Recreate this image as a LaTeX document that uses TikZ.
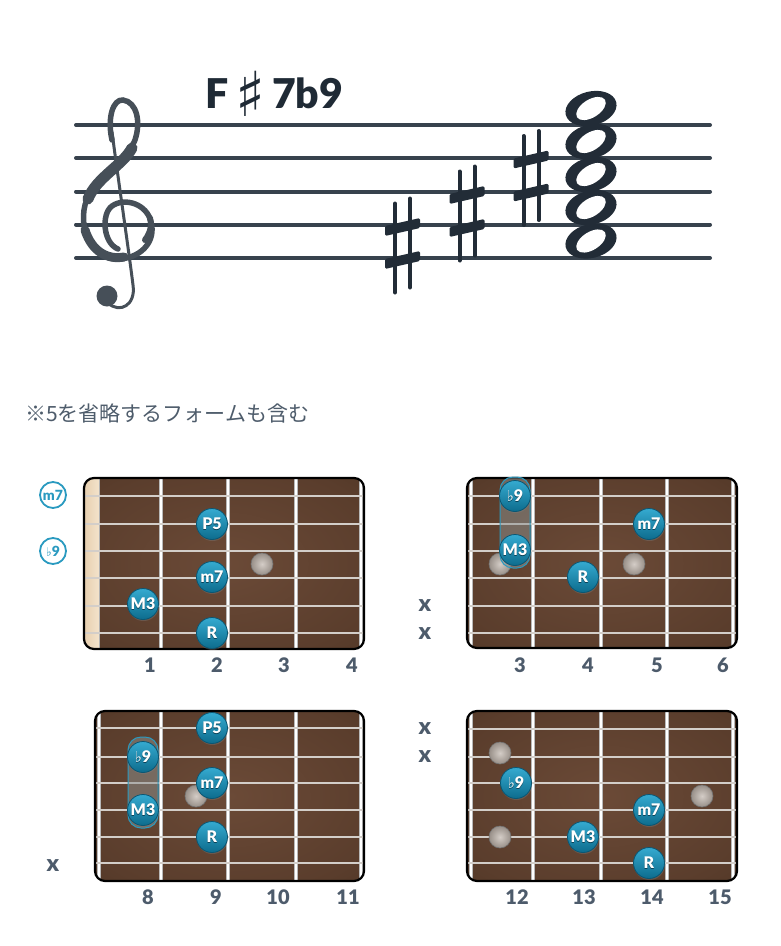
\documentclass[tikz,border=0pt]{standalone}
\usepackage{fontspec}
\usepackage{graphicx}
\setmainfont{Lato}
\newfontfamily\lato{Lato}
\IfFontExistsTF{Lato Black}{\newfontfamily\heavy{Lato Black}}{\newfontfamily\heavy{Lato}[UprightFont=*,UprightFeatures={FakeBold=1.5}]}
\newfontfamily\djv{DejaVu Sans}
\newfontfamily\jpfont{Noto Sans CJK JP}
\usetikzlibrary{shadows}
\definecolor{staffcol}{HTML}{37424D}
\definecolor{clefcol}{HTML}{464F58}
\definecolor{notecol}{HTML}{222C37}
\definecolor{titlecol}{HTML}{1F2A35}
\definecolor{jpcol}{HTML}{4E5C6B}
\definecolor{numcol}{HTML}{4D5B6B}
\definecolor{fbin}{HTML}{6B4A37}
\definecolor{fbmid}{HTML}{5A3D2C}
\definecolor{fbedge}{HTML}{46301F}
\definecolor{fbout}{HTML}{2E1E14}
\definecolor{nutL}{HTML}{E6CFAF}
\definecolor{nutR}{HTML}{F4E3CB}
\definecolor{fretgray}{HTML}{B8B8B8}
\definecolor{stringcol}{HTML}{D3CEC9}
\definecolor{dotT}{HTML}{35AAD0}
\definecolor{dotB}{HTML}{0D6C8D}
\definecolor{dotE}{HTML}{0A5673}
\definecolor{shadcol}{HTML}{0B4257}
\definecolor{ringcol}{HTML}{2A9AC0}
\definecolor{inlayIn}{HTML}{D4CDC7}
\definecolor{inlayOut}{HTML}{988F88}
\definecolor{barrecol}{HTML}{8C9290}
\pgfdeclareradialshading{fbshade}{\pgfpoint{0bp}{0bp}}{color(0bp)=(fbin); color(30bp)=(fbmid); color(50bp)=(fbedge); color(70bp)=(fbout)}
\newcommand\flatsym[1]{{\djv\fontsize{#1}{#1}\selectfont ♭}}
\newcommand\shd[1]{\rlap{\textcolor{shadcol}{\raisebox{-1.3pt}{#1}}}#1}
\begin{document}
\begin{tikzpicture}[x=1pt,y=-1pt,
  staffline/.style={staffcol, line width=4pt, line cap=round},
  titletext/.style={text=titlecol, inner sep=0pt, font=\heavy\fontsize{41}{41}\selectfont},
  jptext/.style={text=jpcol, inner sep=0pt, font=\jpfont\fontsize{21}{21}\selectfont},
  board/.style={draw=black, line width=2.2pt, rounded corners=10pt},
  fbfill/.style={shading=fbshade},
  fretline/.style={draw=fretgray, line width=1.3pt, double=white, double distance=2pt},
  stringline/.style={draw=stringcol, line width=2.3pt},
  dotnote/.style={circle, minimum size=31pt, inner sep=0pt, top color=dotT, bottom color=dotB,
     draw=dotE, line width=0.8pt, text=white, font=\heavy\fontsize{16}{16}\selectfont,
     drop shadow={opacity=0.35, shadow xshift=0.5pt, shadow yshift=-1.5pt}},
  inlay/.style={circle, minimum size=22pt, inner sep=0pt, inner color=inlayIn, outer color=inlayOut,
     draw=black!55, line width=0.6pt},
  ringlab/.style={circle, minimum size=26pt, inner sep=0pt, draw=ringcol, line width=1.8pt, fill=white,
     text=ringcol, font=\heavy\fontsize{14}{14}\selectfont},
  fretnum/.style={text=numcol, inner sep=0pt, font=\heavy\fontsize{20}{20}\selectfont},
  mute/.style={text=numcol, inner sep=0pt, font=\heavy\fontsize{23}{23}\selectfont},
  barre/.style={rounded corners=13pt, fill=barrecol, fill opacity=0.5, draw=ringcol, line width=1pt},
  sharpsym/.pic={
    \draw[line width=4pt, notecol, line cap=round] (-7.5,-40) -- (-7.5,49);
    \draw[line width=4pt, notecol, line cap=round] (7.5,-45) -- (7.5,44);
    \fill[notecol, rounded corners=1.5pt] (-17.5,-17.5) -- (17.5,-25.5) -- (17.5,-15.5) -- (-17.5,-7.5) -- cycle;
    \fill[notecol, rounded corners=1.5pt] (-17.5,15.5) -- (17.5,7.5) -- (17.5,17.5) -- (-17.5,25.5) -- cycle;
  }]
\useasboundingbox (0,0) rectangle (780,946);

% ---------- title ----------
\node[titletext, anchor=base west] (tF) at (205,108) {F};
\node[inner sep=0pt, text=titlecol, font=\djv\fontsize{62}{62}\selectfont] (tS) at (250,93.5) {♯};
\node[titletext, anchor=base west] (t7) at (272,108) {7b9};

% ---------- staff ----------
\foreach \y in {125,158,191.5,224.5,258} \draw[staffline] (76,\y) -- (710,\y);

% treble clef
\begin{scope}[clefcol]
\draw[line width=3pt, line cap=round] (112,132) .. controls (119,185) and (128,245) .. (133,285) .. controls (136,305) and (120,314) .. (108,303);
\fill (107,296) circle[radius=10.5pt];
\draw[line width=5.5pt, line cap=round] (112,140) .. controls (107,118) and (113,99) .. (123,100)
  .. controls (137,102) and (141,122) .. (135,140)
  .. controls (127,162) and (88,180) .. (84,210)
  .. controls (80,240) and (100,261) .. (120,259)
  .. controls (143,257) and (156,240) .. (151,222)
  .. controls (147,204) and (125,197) .. (112,206)
  .. controls (101,214) and (103,243) .. (118,249);
\draw[line width=11pt, line cap=round] (132,148) .. controls (123,165) and (96,178) .. (88,199);
\draw[line width=9pt, line cap=round] (85,230) .. controls (92,252) and (108,260) .. (124,257);
\draw[line width=6pt, line cap=round] (145,240) .. controls (151,232) and (152,224) .. (150,218);
\end{scope}

% sharps
\pic (s1) at (402.5,243.5) {sharpsym};
\pic (s2) at (467,211.5) {sharpsym};
\pic (s3) at (531,176) {sharpsym};

% whole notes
\foreach \y in {108.5,141.5,174.5,207.5,241} {
  \fill[notecol, rotate around={14:(591,\y)}] (591,\y) ellipse [x radius=26pt, y radius=17pt];
  \fill[white, rotate around={32:(591,\y)}] (591,\y) ellipse [x radius=16.5pt, y radius=9pt];
}

% ---------- note ----------
\node[jptext, anchor=west] (jp) at (25,413) {※5を省略するフォームも含む};

% ---------- board 1 ----------
\begin{scope}
\clip[rounded corners=10pt] (84,478) rectangle (364,649);
\shade[fbfill] (84,478) rectangle (364,649);
\shade[left color=nutL, right color=nutR] (84,478) rectangle (99,649);
\draw[draw=black!30, line width=0.8pt] (99,478) -- (99,649);
\foreach \x in {161,228,296,361} \draw[fretline] (\x,478) -- (\x,649);
\foreach \y in {496,524,551,578,606,633} \draw[stringline] (84,\y) -- (364,\y);
\end{scope}
\draw[board] (84,478) rectangle (364,649);
\node[inlay] (b1i1) at (262,564) {};
\node[dotnote] (b1p5) at (212,524) {\shd{P5}};
\node[dotnote] (b1m7) at (212,577) {\shd{m7}};
\node[dotnote] (b1m3) at (143,604) {\shd{M3}};
\node[dotnote] (b1r) at (212,633) {\shd{R}};
\node[ringlab] (lm7) at (53,495) {m7};
\node[ringlab] (lb9) at (53,551) {\flatsym{12}9};
\node[fretnum] (n1) at (150,665) {1};
\node[fretnum] (n2) at (217,665) {2};
\node[fretnum] (n3) at (284,665) {3};
\node[fretnum] (n4) at (352,665) {4};

% ---------- board 2 ----------
\begin{scope}
\clip[rounded corners=10pt] (467,478) rectangle (737,648);
\shade[fbfill] (467,478) rectangle (737,648);
\foreach \x in {471,533,601,667,733} \draw[fretline] (\x,478) -- (\x,648);
\foreach \y in {496,524,551,578,606,633} \draw[stringline] (467,\y) -- (737,\y);
\end{scope}
\draw[board] (467,478) rectangle (737,648);
\node[inlay] (b2i1) at (500,564) {};
\node[inlay] (b2i2) at (634,564) {};
\draw[barre] (500,477) rectangle (530,568);
\node[dotnote] (b2b9) at (515,496) {\shd{\flatsym{15}9}};
\node[dotnote] (b2m3) at (515,550) {\shd{M3}};
\node[dotnote] (b2m7) at (649,524) {\shd{m7}};
\node[dotnote] (b2r) at (583,577) {\shd{R}};
\node[mute] (b2x1) at (425,606) {x};
\node[mute] (b2x2) at (425,634) {x};
\node[fretnum] (n5) at (520,665) {3};
\node[fretnum] (n6) at (588,665) {4};
\node[fretnum] (n7) at (657,665) {5};
\node[fretnum] (n8) at (723,665) {6};

% ---------- board 3 ----------
\begin{scope}
\clip[rounded corners=10pt] (95,711) rectangle (364,881);
\shade[fbfill] (95,711) rectangle (364,881);
\foreach \x in {99,161,228,296,361} \draw[fretline] (\x,711) -- (\x,881);
\foreach \y in {728,757,783,810,837,863} \draw[stringline] (95,\y) -- (364,\y);
\end{scope}
\draw[board] (95,711) rectangle (364,881);
\node[inlay] (b3i1) at (196,796) {};
\draw[barre] (128,737) rectangle (158,828);
\node[dotnote] (b3p5) at (212,728) {\shd{P5}};
\node[dotnote] (b3b9) at (143,757) {\shd{\flatsym{15}9}};
\node[dotnote] (b3m3) at (143,810) {\shd{M3}};
\node[dotnote] (b3m7) at (212,783) {\shd{m7}};
\node[dotnote] (b3r) at (212,837) {\shd{R}};
\node[mute] (b3x1) at (53,866) {x};
\node[fretnum] (n9) at (148,897) {8};
\node[fretnum] (n10) at (216,897) {9};
\node[fretnum] (n11) at (278,897) {10};
\node[fretnum] (n12) at (348,897) {11};

% ---------- board 4 ----------
\begin{scope}
\clip[rounded corners=10pt] (467,711) rectangle (737,881);
\shade[fbfill] (467,711) rectangle (737,881);
\foreach \x in {471,533,601,667,733} \draw[fretline] (\x,711) -- (\x,881);
\foreach \y in {729,757,783,810,837,863} \draw[stringline] (467,\y) -- (737,\y);
\end{scope}
\draw[board] (467,711) rectangle (737,881);
\node[inlay] (b4i1) at (500,753) {};
\node[inlay] (b4i2) at (500,837) {};
\node[inlay] (b4i3) at (702,796) {};
\node[dotnote] (b4b9) at (516,783) {\shd{\flatsym{15}9}};
\node[dotnote] (b4m3) at (583,837) {\shd{M3}};
\node[dotnote] (b4m7) at (649,810) {\shd{m7}};
\node[dotnote] (b4r) at (649,863) {\shd{R}};
\node[mute] (b4x1) at (425,729) {x};
\node[mute] (b4x2) at (425,757) {x};
\node[fretnum] (n13) at (517,897) {12};
\node[fretnum] (n14) at (584,897) {13};
\node[fretnum] (n15) at (652,897) {14};
\node[fretnum] (n16) at (720,897) {15};
\end{tikzpicture}
\end{document}
